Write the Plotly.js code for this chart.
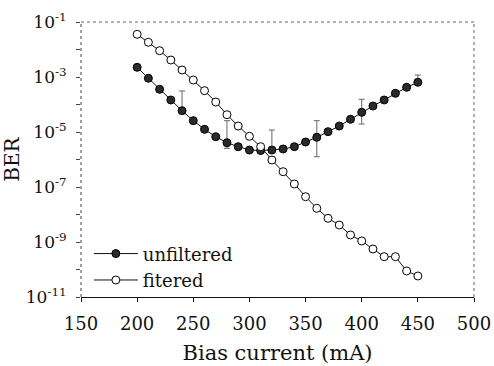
<!DOCTYPE html>
<html>
<head>
<meta charset="utf-8">
<script src="https://cdn.plot.ly/plotly-3.0.1.min.js"></script>
<style>html,body{margin:0;padding:0;background:#fff;}#chart{width:494px;height:366px;}</style>
</head>
<body>
<div id="chart"></div>
<script>
// Bias current (mA)
const biasCurrent = [200,210,220,230,240,250,260,270,280,290,300,310,320,330,340,350,360,370,380,390,400,410,420,430,440,450];

// BER, unfiltered
const berUnfiltered = [2.25e-3,9.0e-4,3.57e-4,1.46e-4,5.96e-5,2.58e-5,1.25e-5,6.75e-6,4.08e-6,2.92e-6,2.21e-6,2.12e-6,2.21e-6,2.41e-6,2.92e-6,4.33e-6,6.41e-6,1.03e-5,1.65e-5,2.90e-5,5.20e-5,8.81e-5,1.46e-4,2.55e-4,4.22e-4,6.41e-4];

// BER, filtered
const berFiltered = [3.57e-2,1.83e-2,9.04e-3,4.15e-3,1.80e-3,7.78e-4,3.18e-4,1.23e-4,4.26e-5,1.65e-5,6.98e-6,2.92e-6,9.59e-7,3.60e-7,1.29e-7,4.44e-8,1.68e-8,7.27e-9,4.15e-9,1.80e-9,1.09e-9,5.56e-10,2.92e-10,2.92e-10,8.81e-11,5.81e-11];

// Error-bar bounds on unfiltered curve (null where no bar)
const errUpper = [null,null,null,null,3.10e-4,null,null,null,2.58e-5,null,null,null,1.18e-5,null,null,null,2.58e-5,null,null,null,1.55e-4,null,null,null,null,1.18e-3];
const errLower = [null,null,null,null,5.96e-5,null,null,null,2.55e-6,null,null,null,2.21e-6,null,null,null,1.26e-6,null,null,null,1.95e-5,null,null,null,null,6.41e-4];

// Axis ticks
const xTicks = [150,200,250,300,350,400,450,500];
const yTickVals = [1e-1,1e-2,1e-3,1e-4,1e-5,1e-6,1e-7,1e-8,1e-9,1e-10,1e-11];
const yTickText = ['10<sup>-1</sup>','','10<sup>-3</sup>','','10<sup>-5</sup>','','10<sup>-7</sup>','','10<sup>-9</sup>','','10<sup>-11</sup>'];

const plus = berUnfiltered.map((v,i)=> errUpper[i]==null ? null : errUpper[i]-v);
const minus = berUnfiltered.map((v,i)=> errLower[i]==null ? null : v-errLower[i]);

const FONT = 'DejaVu Serif, Liberation Serif, serif';

const traces = [
  {
    x: biasCurrent, y: berUnfiltered, name: 'unfiltered', type: 'scatter', mode: 'lines+markers',
    line: {color: '#111', width: 1},
    marker: {symbol: 'circle', size: 8, color: '#2a2a2a', line: {color: '#000', width: 1}},
    error_y: {type: 'data', symmetric: false, array: plus, arrayminus: minus, color: '#666', thickness: 1, width: 3}
  },
  {
    x: biasCurrent, y: berFiltered, name: 'fitered', type: 'scatter', mode: 'lines+markers',
    line: {color: '#111', width: 1},
    marker: {symbol: 'circle', size: 8, color: '#fff', line: {color: '#000', width: 1}}
  }
];

const layout = {
  width: 494, height: 366,
  margin: {l: 81, r: 20, t: 22, b: 69, pad: 0},
  paper_bgcolor: '#fff', plot_bgcolor: '#fff',
  font: {family: FONT, color: '#111', size: 18},
  showlegend: true,
  legend: {x: 0.02, y: -0.005, xanchor: 'left', yanchor: 'bottom', bgcolor: 'rgba(0,0,0,0)',
           font: {family: FONT, size: 18, color: '#111'}, tracegroupgap: 0, itemwidth: 44},
  xaxis: {
    range: [150, 500], tickvals: xTicks, ticktext: xTicks.map(String),
    showgrid: false, zeroline: false, showline: true, linecolor: '#111', linewidth: 1,
    ticks: 'outside', ticklen: 4, tickcolor: '#111', ticklabelstandoff: 6,
    tickfont: {family: FONT, size: 18},
    title: {text: 'Bias current (mA)', font: {family: FONT, size: 21}, standoff: 12}
  },
  yaxis: {
    type: 'log', range: [-11, -1], tickvals: yTickVals, ticktext: yTickText,
    showgrid: false, zeroline: false, showline: false,
    ticks: 'outside', ticklen: 4, tickcolor: '#444',
    tickfont: {family: FONT, size: 17}, ticklabelstandoff: 6,
    title: {text: 'BER', font: {family: FONT, size: 20}, standoff: 2}
  },
  shapes: [
    {type: 'line', xref: 'paper', yref: 'paper', x0: 0, x1: 1, y0: 1, y1: 1, line: {color: '#666', width: 1, dash: 'dot'}},
    {type: 'line', xref: 'paper', yref: 'paper', x0: 1, x1: 1, y0: 0, y1: 1, line: {color: '#666', width: 1, dash: 'dot'}},
    {type: 'line', xref: 'paper', yref: 'paper', x0: 0, x1: 0, y0: 0, y1: 1, line: {color: '#444', width: 1, dash: 'dot'}}
  ]
};

Plotly.newPlot('chart', traces, layout, {displayModeBar: false, staticPlot: true});
</script>
</body>
</html>
